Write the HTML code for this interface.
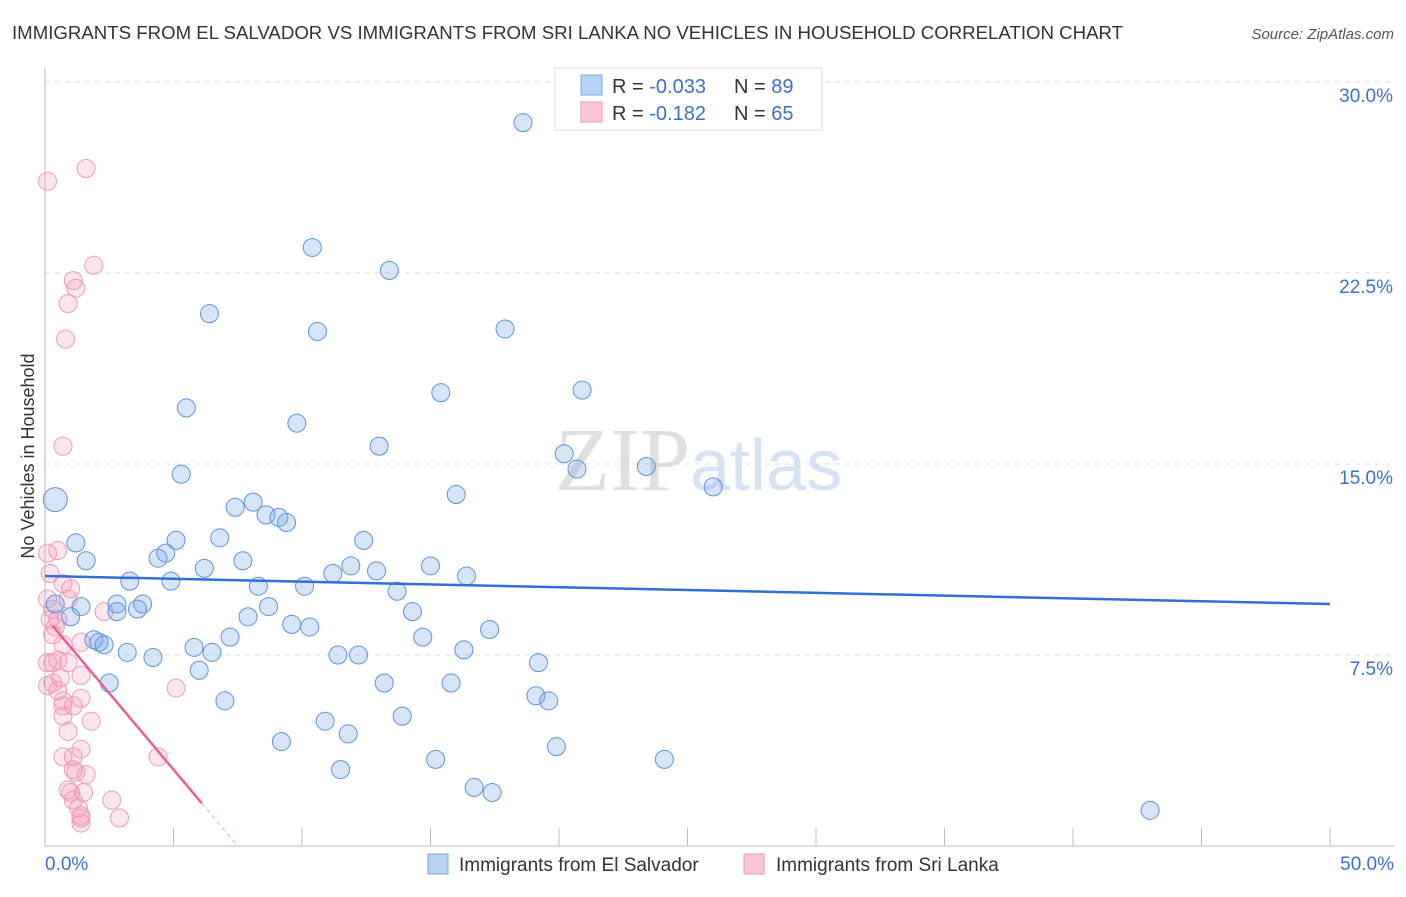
<!DOCTYPE html>
<html><head><meta charset="utf-8"><style>
body{margin:0;background:#fff;font-family:"Liberation Sans",sans-serif;}
svg text{font-family:"Liberation Sans",sans-serif;}
</style></head><body>
<svg id="chart" width="1406" height="892" xmlns="http://www.w3.org/2000/svg">
<text x="12" y="39" font-size="18" fill="#333" textLength="1111" lengthAdjust="spacingAndGlyphs">IMMIGRANTS FROM EL SALVADOR VS IMMIGRANTS FROM SRI LANKA NO VEHICLES IN HOUSEHOLD CORRELATION CHART</text>
<text x="1394" y="39" font-size="15" fill="#555" font-style="italic" text-anchor="end">Source: ZipAtlas.com</text>
<text x="555" y="490" font-size="90"><tspan fill="#e0e0e0" font-family="Liberation Serif">ZIP</tspan><tspan fill="#d6e3f4" font-family="Liberation Sans" font-size="72">atlas</tspan></text>
<g id="grid"></g>
<g id="axes"></g>
<g id="marks"></g>
<text transform="translate(34,456) rotate(-90)" font-size="18" fill="#333" text-anchor="middle">No Vehicles in Household</text>
<g>
<rect x="555" y="68" width="267" height="62" fill="#fff" stroke="#ddd"/>
<rect x="581" y="75" width="21" height="20" fill="#b9d3f5" stroke="#7aa7e6"/>
<rect x="581" y="102" width="21" height="20" fill="#fbc7d6" stroke="#ef93b1"/>
<text x="612" y="93" font-size="20" fill="#333">R = <tspan fill="#3a72c9">-0.033</tspan></text>
<text x="734" y="93" font-size="20" fill="#333">N = <tspan fill="#3a72c9">89</tspan></text>
<text x="612" y="120" font-size="20" fill="#333">R = <tspan fill="#3a72c9"> -0.182</tspan></text>
<text x="734" y="120" font-size="20" fill="#333">N = <tspan fill="#3a72c9">65</tspan></text>
</g>
<g>
<rect x="428" y="854" width="20" height="20" fill="#b9d3f5" stroke="#7aa7e6"/>
<text x="459" y="871" font-size="19" fill="#333">Immigrants from El Salvador</text>
<rect x="744" y="854" width="20" height="20" fill="#fbc7d6" stroke="#ef93b1"/>
<text x="776" y="871" font-size="19" fill="#333">Immigrants from Sri Lanka</text>
</g>
</svg>
<script>
const blueX=[18.6,10.4,13.4,6.4,10.6,17.9,15.4,20.9,5.5,9.8,13.0,20.2,20.7,23.4,5.3,26.0,16.0,0.4,8.1,7.4,8.6,9.1,9.4,6.8,5.1,12.4,1.2,4.7,4.4,7.7,1.6,15.0,11.9,12.9,6.2,11.2,16.4,3.3,4.9,8.3,10.1,13.7,0.4,1.4,2.8,3.8,3.6,2.8,8.7,14.3,1.0,7.9,9.6,10.3,17.3,7.2,14.7,1.9,2.1,2.3,5.8,16.3,3.2,6.5,11.4,12.2,4.2,19.2,6.0,2.5,13.2,15.8,19.1,19.6,7.0,13.9,10.9,11.8,9.2,19.9,15.2,24.1,11.5,16.7,17.4,43.0];
const blueY=[28.4,23.5,22.6,20.9,20.2,20.3,17.8,17.9,17.2,16.6,15.7,15.4,14.8,14.9,14.6,14.1,13.8,13.6,13.5,13.3,13.0,12.9,12.7,12.1,12.0,12.0,11.9,11.5,11.3,11.2,11.2,11.0,11.0,10.8,10.9,10.7,10.6,10.4,10.4,10.2,10.2,10.0,9.5,9.4,9.5,9.5,9.3,9.2,9.4,9.2,9.0,9.0,8.7,8.6,8.5,8.2,8.2,8.1,8.0,7.9,7.8,7.7,7.6,7.6,7.5,7.5,7.4,7.2,6.9,6.4,6.4,6.4,5.9,5.7,5.7,5.1,4.9,4.4,4.1,3.9,3.4,3.4,3.0,2.3,2.1,1.4];
const pinkX=[0.1,1.6,1.9,1.1,1.2,0.9,0.8,0.7,0.5,0.1,0.2,0.7,1.0,0.1,0.9,0.3,0.5,2.3,1.4,0.3,0.7,0.5,0.3,0.9,0.1,1.4,0.6,0.3,0.5,0.1,5.1,0.7,1.4,1.1,0.7,1.8,0.9,1.4,1.1,0.7,4.4,1.1,1.6,1.2,0.9,1.0,1.5,1.1,1.3,2.6,1.4,1.4,1.4,2.9,0.7,0.2,0.4];
const pinkY=[26.1,26.6,22.8,22.2,21.9,21.3,19.9,15.7,11.6,11.5,10.7,10.3,10.1,9.7,9.7,9.3,8.9,9.2,8.0,8.3,7.9,7.3,7.2,7.2,7.2,6.7,6.6,6.4,6.1,6.3,6.2,5.7,5.8,5.5,5.1,4.9,4.5,3.8,3.5,3.5,3.5,3.0,2.8,2.9,2.2,2.1,2.1,1.8,1.5,1.8,1.2,0.9,1.1,1.1,5.5,8.9,8.6];
const blueTrend=[10.6,9.5];
const pinkTrend=[9.0,-1.2];
const yTicks=[7.5,15,22.5,30];
const yTickLabels=["7.5%","15.0%","22.5%","30.0%"];
const xTicks=[0,5,10,15,20,25,30,35,40,45,50];

const NS="http://www.w3.org/2000/svg";
const X0=45,X1=1330,Y0=846,YS=25.47;
function sx(v){return X0+v*(X1-X0)/50;}
function sy(v){return Y0-v*YS;}
function mk(tag,attrs,parent){const e=document.createElementNS(NS,tag);for(const k in attrs)e.setAttribute(k,attrs[k]);parent.appendChild(e);return e;}
const grid=document.getElementById('grid'),axes=document.getElementById('axes'),marks=document.getElementById('marks');
yTicks.forEach((t,i)=>{
 const l=mk('line',{x1:X0,x2:1394,y1:sy(t),y2:sy(t),stroke:'#ddd','stroke-dasharray':'5,5'},grid);
 
 
 const tx=mk('text',{x:1393,y:sy(t)+20,'font-size':19,fill:'#3a72c9','text-anchor':'end'},axes);
 tx.textContent=yTickLabels[i];
 
 
});
const ax=mk('line',{x1:X0,x2:X0,y1:68,y2:Y0,stroke:'#bbb'},axes);


const bx=mk('line',{x1:X0,x2:1394,y1:Y0,y2:Y0,stroke:'#bbb'},axes);


xTicks.forEach(t=>{if(t===0)return;
 const l=mk('line',{x1:sx(t),x2:sx(t),y1:Y0-18,y2:Y0,stroke:'#bbb'},axes);
 
 
});
const xl0=mk('text',{x:45,y:870,'font-size':19,fill:'#3a72c9'},axes);xl0.textContent='0.0%';


const xl1=mk('text',{x:1394,y:870,'font-size':19,fill:'#3a72c9','text-anchor':'end'},axes);xl1.textContent='50.0%';



pinkX.forEach((x,i)=>{
 const c=mk('circle',{cx:sx(x),cy:sy(pinkY[i]),r:9,fill:'rgba(244,143,172,0.22)',stroke:'#ee9ab6','stroke-width':1},marks);
 
 
});
blueX.forEach((x,i)=>{
 const c=mk('circle',{cx:sx(x),cy:sy(blueY[i]),r:(i===17?12:9),fill:'rgba(110,160,232,0.28)',stroke:'#5e93dc','stroke-width':1},marks);
 
 
});
const bt=mk('line',{x1:sx(0),y1:sy(blueTrend[0]),x2:sx(50),y2:sy(blueTrend[1]),stroke:'#2f6fd6','stroke-width':2.5},marks);


const pf=v=>pinkTrend[0]+pinkTrend[1]*v;
const xz=-pinkTrend[0]/pinkTrend[1];
const pt=mk('line',{x1:sx(0.3),y1:sy(pf(0.3)),x2:sx(6.1),y2:sy(pf(6.1)),stroke:'#e8608e','stroke-width':2.5},marks);


const pd=mk('line',{x1:sx(6.1),y1:sy(pf(6.1)),x2:sx(xz),y2:sy(0),stroke:'#e8a0b8','stroke-width':1,'stroke-dasharray':'4,4'},marks);


</script>
</body></html>
